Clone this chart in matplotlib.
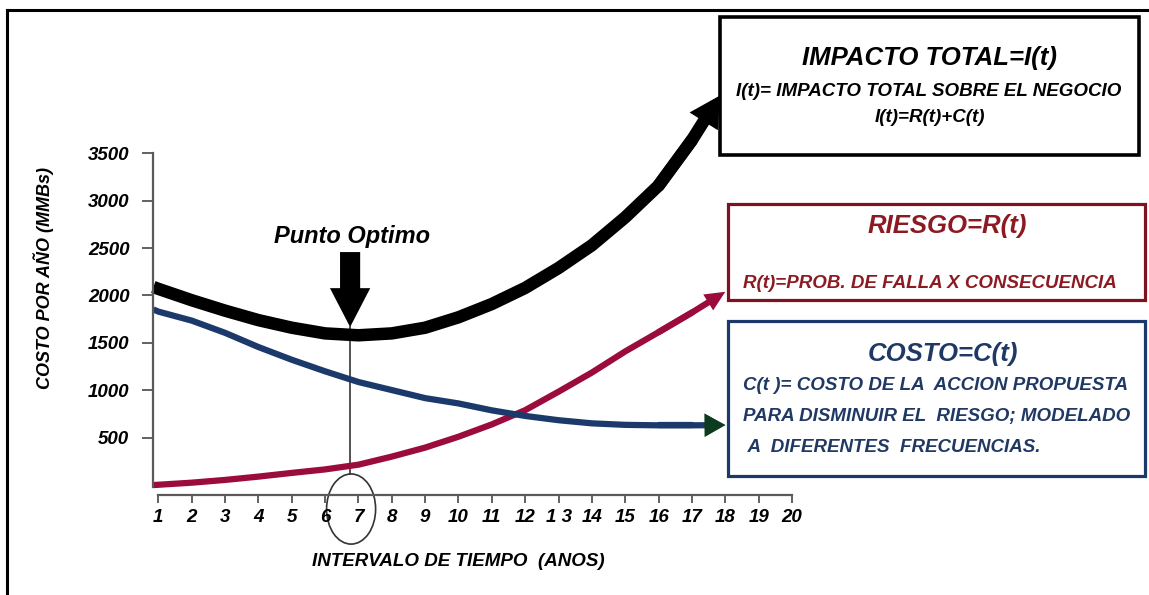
import matplotlib
matplotlib.use('Agg')
import matplotlib.pyplot as plt
from matplotlib.patches import Rectangle, Ellipse
from matplotlib.lines import Line2D

plt.rcParams['font.family'] = ['Liberation Sans', 'DejaVu Sans']
plt.rcParams['font.weight'] = 'bold'
plt.rcParams['font.style'] = 'italic'

# intervalo de tiempo (anos) and curves in MMBs per year
years = [0.85, 1, 2, 3, 4, 5, 6, 7, 8, 9, 10, 11, 12, 13, 14, 15, 16, 17, 18]
years_impacto = [0.85, 1, 2, 3, 4, 5, 6, 7, 8, 9, 10, 11, 12, 13, 14, 15, 16, 17, 17.84]
impacto = [2090, 2070, 1950, 1840, 1740, 1660, 1600, 1580, 1600, 1660, 1770,
           1910, 2080, 2290, 2530, 2825, 3160, 3640, 4110]
costo = [1853, 1830, 1735, 1606, 1456, 1322, 1200, 1087, 1002, 917, 861,
         788, 729, 684, 651, 635, 630, 630, 633]
riesgo = [0, 3, 25, 54, 89, 128, 165, 215, 300, 395, 510, 640, 790, 985,
          1187, 1410, 1613, 1820, 2039]

x_ticks = list(range(1, 21))
x_labels = ['1', '2', '3', '4', '5', '6', '7', '8', '9', '10', '11', '12',
            '1 3', '14', '15', '16', '17', '18', '19', '20']
y_ticks = [500, 1000, 1500, 2000, 2500, 3000, 3500]

opt_x = 6.75
opt_tip = 1667
opt_top = 2458

BLACK = '#000000'
NAVY = '#1b3a6b'
CRIMSON = '#9b0b3c'
GREEN_HEAD = '#0c3b1d'
BOX_RED = '#7d1220'
TXT_RED = '#8c1a22'
TXT_NAVY = '#1f3864'

W, H = 1149, 595
fig = plt.figure(figsize=(W / 100, H / 100), dpi=100)
fig.patch.set_facecolor('white')


def fx(x):
    return x / W


def fy(y):
    return 1 - y / H


ax = fig.add_axes([fx(153), fy(495), (792 - 153) / W, (495 - 68) / H])
ax.set_xlim(0.84, 20.0)
ax.set_ylim(-105, 4400)
ax.patch.set_alpha(0)

for s in ['top', 'right']:
    ax.spines[s].set_visible(False)
ax.spines['left'].set_bounds(-20, 3500)
ax.spines['bottom'].set_bounds(1, 20)
for s in ['left', 'bottom']:
    ax.spines[s].set_color('#5a5a5a')
    ax.spines[s].set_linewidth(1.6)

ax.set_xticks(x_ticks)
ax.set_xticklabels(x_labels)
ax.set_yticks(y_ticks)
ax.tick_params(axis='y', direction='out', length=8, width=1.3, color='#555555',
               pad=9, labelsize=13.5)
ax.tick_params(axis='x', direction='out', length=6, width=1.3, color='#555555',
               pad=4, labelsize=13.5)


def curve(xs, ys, color, lw, head_len, head_w, head_color=None):
    # body of the curve, flat start, rounded joint where the arrow begins
    ax.plot(xs[:-1], ys[:-1], color=color, lw=lw, solid_capstyle='butt',
            solid_joinstyle='round', clip_on=False)
    ax.plot(xs[-3:-1], ys[-3:-1], color=color, lw=lw, solid_capstyle='round',
            clip_on=False)
    style = 'simple,head_length=%s,head_width=%s,tail_width=%s' % (head_len, head_w, lw / 10)
    ax.annotate('', xy=(xs[-1], ys[-1]), xytext=(xs[-2], ys[-2]),
                arrowprops=dict(arrowstyle=style, mutation_scale=10, color=color,
                                lw=0, shrinkA=0, shrinkB=0), annotation_clip=False)
    if head_color is not None:
        style = 'simple,head_length=%s,head_width=%s,tail_width=0.01' % (head_len + 0.05, head_w + 0.1)
        ax.annotate('', xy=(xs[-1], ys[-1]), xytext=(xs[-2], ys[-2]),
                    arrowprops=dict(arrowstyle=style, mutation_scale=10, color=head_color,
                                    lw=0, shrinkA=0, shrinkB=0), annotation_clip=False)


# optimum marker: thin vertical line and circle around year 7
ax.plot([opt_x, opt_x], [116, opt_tip], color='#444444', lw=1.3, zorder=1)
ax.add_patch(Ellipse((opt_x + 0.03, -253), 1.47, 740, fill=False,
                     edgecolor='#333333', lw=1.2, clip_on=False))

curve(years, riesgo, CRIMSON, 4.5, 1.45, 1.35)
curve(years, costo, NAVY, 4.5, 1.45, 1.6, head_color=GREEN_HEAD)
curve(years_impacto, impacto, BLACK, 9, 2.2, 2.4)

# Punto Optimo arrow
ax.annotate('', xy=(opt_x, opt_tip), xytext=(opt_x, opt_top),
            arrowprops=dict(arrowstyle='simple,head_length=2.8,head_width=2.9,tail_width=1.45',
                            mutation_scale=10, color=BLACK, lw=0, shrinkA=0, shrinkB=0))
fig.text(fx(352), fy(237), 'Punto Optimo', fontsize=17, ha='center', va='center')

# axis titles
fig.text(fx(458), fy(562), 'INTERVALO DE TIEMPO  (ANOS)', fontsize=13.5,
         ha='center', va='center')
fig.text(fx(44), fy(278), 'COSTO POR AÑO (MMBs)', fontsize=13, rotation=90,
         ha='center', va='center')

# page frame
fig.add_artist(Line2D([fx(7), fx(1149)], [fy(10), fy(10)], color='black', lw=2.2,
                      transform=fig.transFigure))
fig.add_artist(Line2D([fx(7), fx(7)], [fy(10), fy(595)], color='black', lw=2.2,
                      transform=fig.transFigure))


def box(x0, y0, x1, y1, edge, lw):
    fig.add_artist(Rectangle((fx(x0), fy(y1)), fx(x1) - fx(x0), fy(y0) - fy(y1),
                             transform=fig.transFigure, facecolor='white',
                             edgecolor=edge, lw=lw, zorder=5))


box(720, 17, 1139, 155, BLACK, 2.6)
fig.text(fx(929), fy(58), 'IMPACTO TOTAL=I(t)', fontsize=18.5, ha='center', va='center', zorder=6)
fig.text(fx(929), fy(91), 'I(t)= IMPACTO TOTAL SOBRE EL NEGOCIO', fontsize=13.5,
         ha='center', va='center', zorder=6)
fig.text(fx(930), fy(118), 'I(t)=R(t)+C(t)', fontsize=13.5, ha='center', va='center', zorder=6)

box(728, 204, 1145, 300, BOX_RED, 2.3)
fig.text(fx(947), fy(226), 'RIESGO=R(t)', fontsize=18.5, color=TXT_RED,
         ha='center', va='center', zorder=6)
fig.text(fx(743), fy(283), 'R(t)=PROB. DE FALLA X CONSECUENCIA', fontsize=13.5,
         color=TXT_RED, ha='left', va='center', zorder=6)

box(728, 321, 1145, 476, NAVY, 2.3)
fig.text(fx(943), fy(354), 'COSTO=C(t)', fontsize=18.5, color=TXT_NAVY,
         ha='center', va='center', zorder=6)
costo_lines = ['C(t )= COSTO DE LA  ACCION PROPUESTA',
               'PARA DISMINUIR EL  RIESGO; MODELADO',
               ' A  DIFERENTES  FRECUENCIAS.']
for i, line in enumerate(costo_lines):
    fig.text(fx(743), fy(385 + 31 * i), line, fontsize=13.5, color=TXT_NAVY,
             ha='left', va='center', zorder=6)

fig.savefig('out.png', dpi=100)
